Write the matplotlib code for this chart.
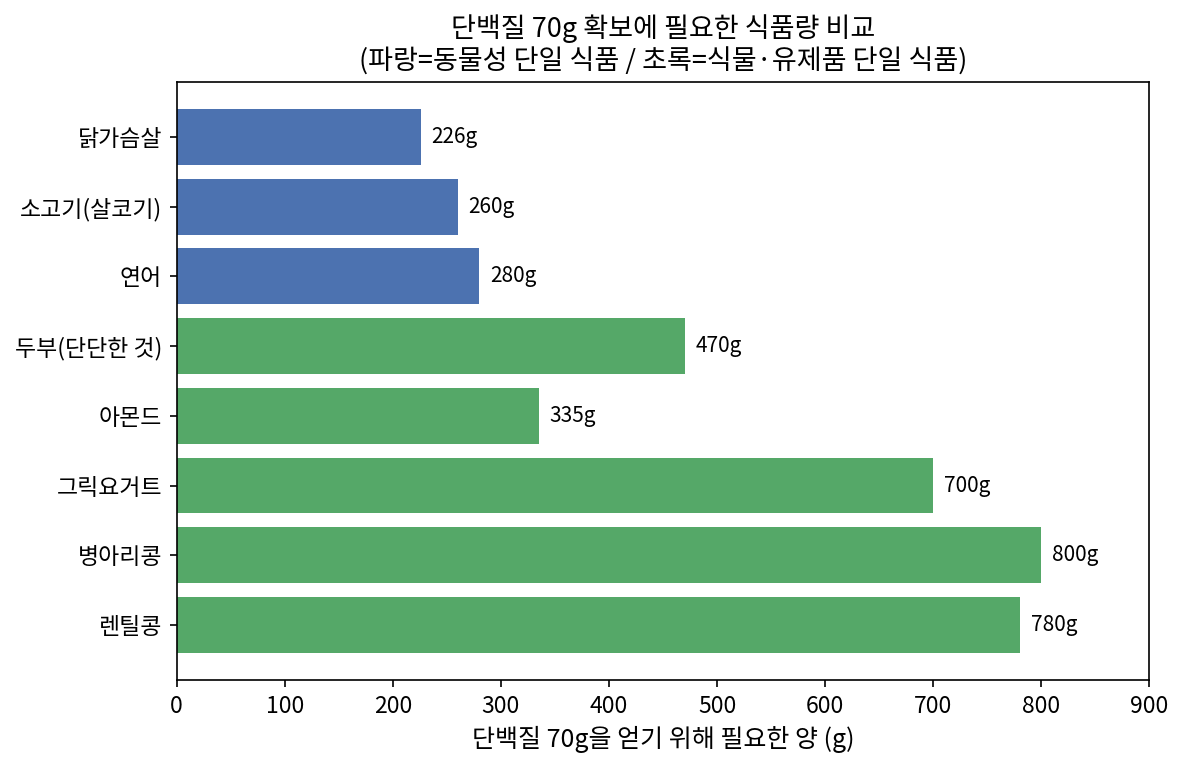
import numpy as np
import matplotlib.pyplot as plt

plt.rcParams['font.family'] = ['Noto Sans CJK KR', 'DejaVu Sans']

foods = ["닭가슴살", "소고기(살코기)", "연어", "두부(단단한 것)", "아몬드", "그릭요거트", "병아리콩", "렌틸콩"]
grams = [226, 260, 280, 470, 335, 700, 800, 780]
kinds = ["animal", "animal", "animal", "plant", "plant", "plant", "plant", "plant"]

colors = ["#4C72B0" if k == "animal" else "#55A868" for k in kinds]

fig, ax = plt.subplots(figsize=(7.9, 5.1), dpi=150)
y = np.arange(len(foods))
ax.barh(y, grams, color=colors, height=0.8)
ax.set_yticks(y)
ax.set_yticklabels(foods)
ax.tick_params(axis="both", labelsize=11)
ax.invert_yaxis()

for yi, g in zip(y, grams):
    ax.text(g + 10, yi, f"{g}g", va="center", ha="left", fontsize=10)

ax.set_xlim(0, 900)
ax.set_xlabel("단백질 70g을 얻기 위해 필요한 양 (g)", fontsize=12)
ax.set_title("단백질 70g 확보에 필요한 식품량 비교\n(파랑=동물성 단일 식품 / 초록=식물·유제품 단일 식품)", fontsize=13)

plt.subplots_adjust(left=0.149, right=0.970, top=0.893, bottom=0.111)
plt.savefig("out.png")
